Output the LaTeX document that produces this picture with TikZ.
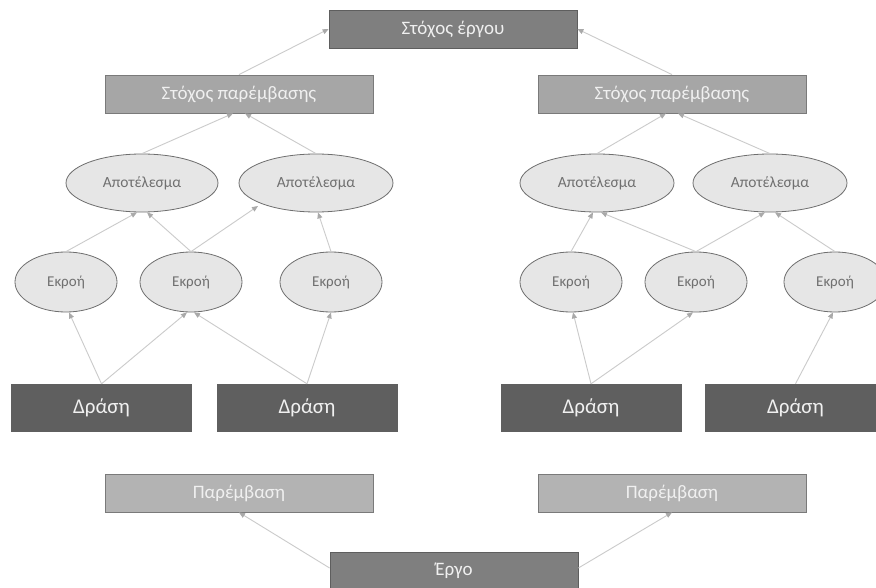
\documentclass[tikz,border=0pt]{standalone}
\usepackage{fontspec}
\setmainfont{Carlito}
\usetikzlibrary{shapes.geometric,arrows.meta}
\definecolor{topfill}{HTML}{7F7F7F}
\definecolor{topdraw}{HTML}{5E5E5E}
\definecolor{midfill}{HTML}{A6A6A6}
\definecolor{middraw}{HTML}{7A7A7A}
\definecolor{lowfill}{HTML}{B3B3B3}
\definecolor{ellfill}{HTML}{E6E6E6}
\definecolor{elldraw}{HTML}{6E6E6E}
\definecolor{elltext}{HTML}{707070}
\definecolor{actfill}{HTML}{5F5F5F}
\definecolor{boxtext}{HTML}{F0F0F0}
\definecolor{linecol}{HTML}{CBCBCB}
\definecolor{tipcol}{HTML}{A9A9A9}
\tikzset{
  goalbox/.style={rectangle, fill=topfill, draw=topdraw, line width=0.8pt, text=boxtext,
    minimum width=248pt, minimum height=38pt, inner sep=0pt, font=\fontsize{19}{21}\selectfont},
  subbox/.style={rectangle, fill=midfill, draw=middraw, line width=0.8pt, text=boxtext,
    minimum width=268pt, minimum height=38pt, inner sep=0pt, font=\fontsize{19}{21}\selectfont},
  lowbox/.style={rectangle, fill=lowfill, draw=middraw, line width=0.8pt, text=boxtext,
    minimum width=268pt, minimum height=38pt, inner sep=0pt, font=\fontsize{19}{21}\selectfont},
  outcome/.style={ellipse, fill=ellfill, draw=elldraw, line width=0.8pt, text=elltext,
    minimum width=154pt, minimum height=58pt, inner sep=0pt, font=\fontsize{15.5}{17}\selectfont},
  output/.style={ellipse, fill=ellfill, draw=elldraw, line width=0.8pt, text=elltext,
    minimum width=102pt, minimum height=60pt, inner sep=0pt, font=\fontsize{15}{17}\selectfont},
  actbox/.style={rectangle, fill=actfill, text=boxtext,
    minimum width=181pt, minimum height=48pt, inner sep=0pt, font=\fontsize{21}{23}\selectfont},
  conn/.style={draw=linecol, line width=0.9pt, -{Triangle[length=6pt,width=5pt,fill=tipcol,color=tipcol]}}
}
\begin{document}
\begin{tikzpicture}[x=1pt,y=-1pt]
\useasboundingbox (0,0) rectangle (876,588);
\fill[white] (0,0) rectangle (876,588);
\clip (0,0) rectangle (876,588);

% nodes
\node[goalbox] (top) at (453,29) {Στόχος έργου};
\node[subbox] (spL) at (239,94) {Στόχος παρέμβασης};
\node[subbox] (spR) at (672,94) {Στόχος παρέμβασης};

\node[outcome, minimum width=152pt] (ap1) at (142,183) {Αποτέλεσμα};
\node[outcome] (ap2) at (316,183) {Αποτέλεσμα};
\node[outcome] (ap3) at (597,183) {Αποτέλεσμα};
\node[outcome] (ap4) at (770,183) {Αποτέλεσμα};

\node[output] (ek1) at (66,282) {Εκροή};
\node[output] (ek2) at (191,282) {Εκροή};
\node[output] (ek3) at (331,282) {Εκροή};
\node[output] (ek4) at (571,282) {Εκροή};
\node[output] (ek5) at (696,282) {Εκροή};
\node[output] (ek6) at (835,282) {Εκροή};

\node[actbox] (d1) at (101.5,408) {Δράση};
\node[actbox] (d2) at (307,408) {Δράση};
\node[actbox] (d3) at (591,408) {Δράση};
\node[actbox] (d4) at (795.5,408) {Δράση};

\node[lowbox] (p1) at (239,493) {Παρέμβαση};
\node[lowbox] (p2) at (672,493) {Παρέμβαση};

\node[goalbox, minimum width=248pt] (ergo) at (454,571) {Έργο};

% connectors
\draw[conn] (spL.north) -- (top.west);
\draw[conn] (spR.north) -- (top.east);

\draw[conn] (ap1.north) -- ([xshift=-6pt]spL.south);
\draw[conn] (ap2.north) -- ([xshift=6pt]spL.south);
\draw[conn] (ap3.north) -- ([xshift=-6pt]spR.south);
\draw[conn] (ap4.north) -- ([xshift=6pt]spR.south);

\draw[conn] (ek1.north) -- ([xshift=-5pt]ap1.south);
\draw[conn] (ek2.north) -- ([xshift=5pt]ap1.south);
\draw[conn] (ek2.north) -- ([shift={(-58,23)}]ap2.center);
\draw[conn] (ek3.north) -- ([xshift=2pt]ap2.south);
\draw[conn] (ek4.north) -- ([xshift=-4pt]ap3.south);
\draw[conn] (ek5.north) -- ([xshift=4pt]ap3.south);
\draw[conn] (ek5.north) -- ([xshift=-5pt]ap4.south);
\draw[conn] (ek6.north) -- ([xshift=5pt]ap4.south);

\draw[conn] (d1.north) -- ([xshift=3pt]ek1.south);
\draw[conn] (d1.north) -- ([xshift=-4pt]ek2.south);
\draw[conn] (d2.north) -- ([xshift=3pt]ek2.south);
\draw[conn] (d2.north) -- (ek3.south);
\draw[conn] (d3.north) -- ([xshift=2pt]ek4.south);
\draw[conn] (d3.north) -- ([xshift=-3pt]ek5.south);
\draw[conn] (d4.north) -- ([xshift=-2pt]ek6.south);

\draw[conn] ([yshift=3pt]ergo.west) -- (p1.south);
\draw[conn] ([yshift=3pt]ergo.east) -- (p2.south);
\end{tikzpicture}
\end{document}
